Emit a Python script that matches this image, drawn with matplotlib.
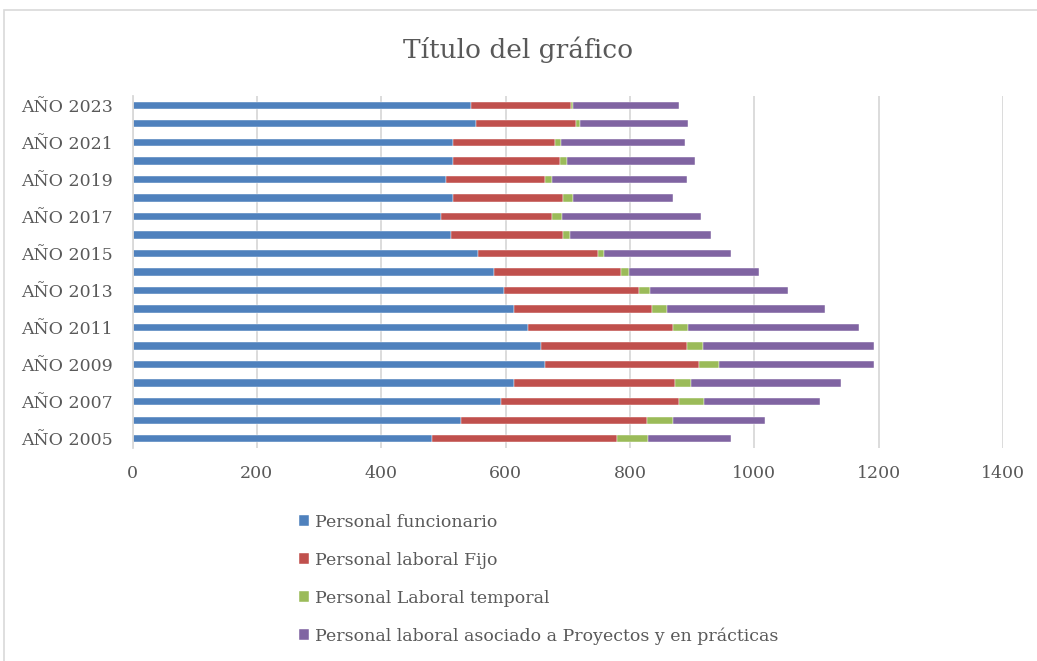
"""Barras apiladas: personal por año"""

import matplotlib.pyplot as plt
from matplotlib.patches import Rectangle

years = list(range(2005, 2024))

# valores, de 2005 a 2023
funcionario = [482, 528, 592, 613, 663, 657, 636, 614, 598, 581,
               556, 513, 496, 516, 504, 516, 516, 553, 545]
laboral_fijo = [298, 299, 287, 259, 248, 235, 233, 222, 216, 205,
                192, 179, 178, 176, 160, 172, 164, 161, 160]
laboral_temporal = [49, 43, 40, 27, 33, 25, 24, 23, 19, 13,
                    10, 12, 17, 16, 11, 11, 9, 6, 4]
proyectos = [133, 148, 186, 240, 248, 276, 275, 255, 221, 209,
             205, 226, 224, 162, 217, 205, 200, 173, 170]

series = [
    ('Personal funcionario', funcionario, '#4F81BD'),
    ('Personal laboral Fijo', laboral_fijo, '#C0504D'),
    ('Personal Laboral temporal', laboral_temporal, '#9BBB59'),
    ('Personal laboral asociado a Proyectos y en prácticas', proyectos, '#8064A2'),
]

def main():
    plt.rcParams['font.family'] = ['DejaVu Serif']
    text_col = '#595959'

    fig = plt.figure(figsize=(10.37, 6.61), dpi=100)
    ax = fig.add_axes([132.5 / 1037, 1 - 448 / 661, (1003 - 132.5) / 1037, (448 - 96) / 661])

    #marco exterior del grafico
    fig.patches.append(Rectangle((4 / 1037, -0.01), 1.02, 1 - 10 / 661 + 0.01,
                                 transform=fig.transFigure, fill=False,
                                 edgecolor='#d9d9d9', linewidth=1.2))

    pos = list(range(len(years)))
    left = [0] * len(years)
    handles = []
    for name, vals, col in series:
        h = ax.barh(pos, vals, left=left, height=0.4, color=col, label=name,
                    edgecolor='white', linewidth=0.3)
        handles.append(h)
        left = [a + b for a, b in zip(left, vals)]

    ax.set_xlim(0, 1400)
    ax.set_ylim(-0.5, len(years) - 0.5)
    ax.set_xticks(range(0, 1401, 200))
    ax.set_yticks(pos[::2])
    ax.set_yticklabels(['AÑO %d' % y for y in years[::2]])
    ax.tick_params(axis='both', length=0, labelsize=12.5, colors=text_col)
    ax.tick_params(axis='x', pad=12)
    ax.tick_params(axis='y', pad=14)

    ax.grid(axis='x', color='#d9d9d9', linewidth=1.3)
    ax.set_axisbelow(True)
    for s in ['top', 'right', 'bottom']:
        ax.spines[s].set_visible(False)
    ax.spines['left'].set_color('#d9d9d9')
    ax.spines['left'].set_linewidth(1.3)

    fig.text(0.5, 1 - 50 / 661, 'Título del gráfico', ha='center', va='center',
             fontsize=19, color=text_col)

    fig.legend(handles=handles, loc='upper left', bbox_to_anchor=(292 / 1037, 1 - 507 / 661),
               frameon=False, fontsize=12.5, labelcolor=text_col, ncol=1,
               handlelength=0.6, handleheight=0.6, handletextpad=0.3,
               labelspacing=1.2, borderaxespad=0)

    fig.savefig('out.png', dpi=100)

if __name__ == "__main__":
    main()
